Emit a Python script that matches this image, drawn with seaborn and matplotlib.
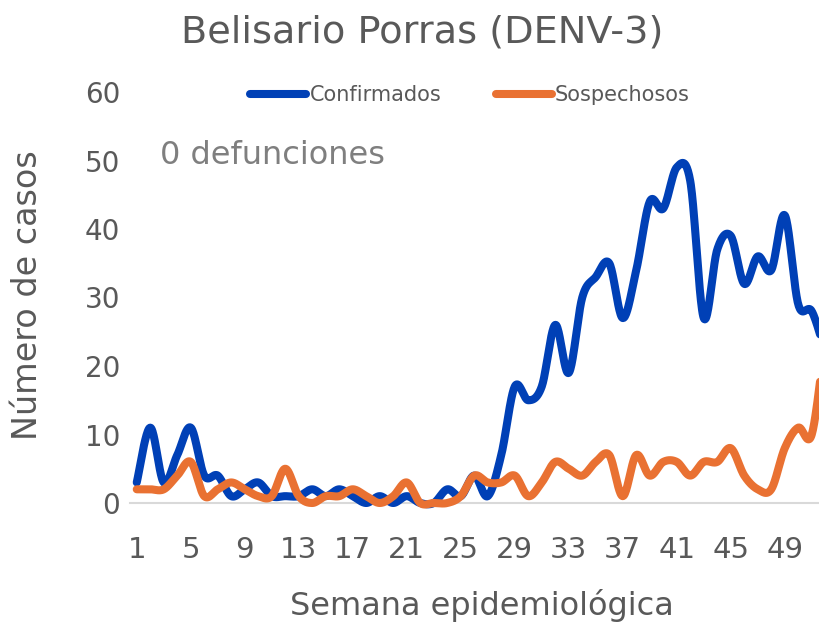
import numpy as np
import pandas as pd
import seaborn as sns
import matplotlib
matplotlib.use("Agg")
import matplotlib.pyplot as plt
from matplotlib.lines import Line2D

# ---------------- data ----------------
semanas = list(range(1, 53))
confirmados = [3, 11, 3, 7, 11, 4, 4, 1, 2, 3, 1, 1, 1,
               2, 1, 2, 1, 0, 1, 0, 1, 0, 0, 2, 1, 4, 1,
               7, 17, 15, 17, 26, 19, 30, 33, 35, 27, 34, 44, 43, 49, 47,
               27, 37, 39, 32, 36, 34, 42, 29, 28, 22]
sospechosos = [2, 2, 2, 4, 6, 1, 2, 3, 2, 1, 1, 5, 1,
               0, 1, 1, 2, 1, 0, 1, 3, 0, 0, 0, 1, 4, 3,
               3, 4, 1, 3, 6, 5, 4, 6, 7, 1, 7, 4, 6, 6, 4,
               6, 6, 8, 4, 2, 2, 8, 11, 10, 24]
series_names = ["Confirmados", "Sospechosos"]
series_colors = ["#0040B6", "#E97132"]
x_tick_weeks = list(range(1, 50, 4))
y_tick_values = list(range(0, 61, 10))
title_text = "Belisario Porras (DENV-3)"
note_text = "0 defunciones"
x_label = "Semana epidemiológica"
y_label = "Número de casos"


def smooth_curve(x, y, n=24):
    """Excel-style smoothed line: cubic Bezier through each data point."""
    x = np.asarray(x, float)
    y = np.asarray(y, float)
    P = np.column_stack([x, y])
    P = np.vstack([P[0], P, P[-1]])
    t = np.linspace(0, 1, n, endpoint=False)[:, None]
    pts = []
    for i in range(len(x) - 1):
        p0, p1, p2, p3 = P[i], P[i + 1], P[i + 2], P[i + 3]
        c1 = p1 + (p2 - p0) / 6.0
        c2 = p2 - (p3 - p1) / 6.0
        seg = ((1 - t) ** 3) * p1 + 3 * ((1 - t) ** 2) * t * c1 \
            + 3 * (1 - t) * t ** 2 * c2 + t ** 3 * p2
        pts.append(seg)
    pts.append(P[-2][None, :])
    pts = np.vstack(pts)
    return pts[:, 0], pts[:, 1]


frames = []
for name, vals in zip(series_names, [confirmados, sospechosos]):
    sx, sy = smooth_curve(semanas, vals)
    frames.append(pd.DataFrame({"semana": sx, "casos": sy, "serie": name}))
df = pd.concat(frames, ignore_index=True)

# ---------------- figure ----------------
sns.set_theme(style="white")
plt.rcParams["font.family"] = ["DejaVu Sans"]
grey = "#595959"

W, H = 820, 625
fig = plt.figure(figsize=(W / 100, H / 100), dpi=100)
fig.patch.set_facecolor("white")
ax_left, ax_bottom = 130, 503
ax_w = 52 * 13.5
ax_h = 503 - 92
ax = fig.add_axes([ax_left / W, (H - ax_bottom) / H, ax_w / W, ax_h / H])

sns.lineplot(data=df, x="semana", y="casos", hue="serie",
             palette=dict(zip(series_names, series_colors)),
             sort=False, estimator=None, linewidth=5.8, ax=ax, legend=False)
for ln in ax.lines:
    ln.set_solid_capstyle("round")
    ln.set_solid_joinstyle("round")
    ln.set_clip_on(False)

ax.set_xlim(0.5, 52.5)
ax.set_ylim(0, 60)
ax.set_xticks(x_tick_weeks)
ax.set_xticklabels([str(v) for v in x_tick_weeks])
ax.set_yticks(y_tick_values)
ax.set_yticklabels([str(v) for v in y_tick_values])
ax.tick_params(axis="x", length=0, pad=24, labelsize=21, labelcolor=grey)
ax.tick_params(axis="y", length=0, pad=7, labelsize=20, labelcolor=grey)
ax.grid(False)
for s in ["top", "right", "left"]:
    ax.spines[s].set_visible(False)
ax.spines["bottom"].set_color("#D9D9D9")
ax.spines["bottom"].set_linewidth(1.5)
ax.spines["bottom"].set_zorder(0.5)

ax.set_xlabel(x_label, fontsize=23, color=grey)
ax.set_ylabel(y_label, fontsize=24, color=grey)
ax.xaxis.label.set_va("center")
ax.yaxis.label.set_va("center")
ax.yaxis.label.set_ha("center")
ax.xaxis.set_label_coords((482 - ax_left) / ax_w, (ax_bottom - 605) / ax_h)
ax.yaxis.set_label_coords((28 - ax_left) / ax_w, (ax_bottom - 295) / ax_h)

fig.text(422 / W, 1 - 33 / H, title_text, ha="center", va="center",
         fontsize=27.5, color=grey)
fig.text(160 / W, 1 - 155 / H, note_text, ha="left", va="center",
         fontsize=23, color="#7F7F7F")

handles = [Line2D([], [], color=c, lw=5.8, solid_capstyle="round")
           for c in series_colors]
fig.legend(handles, series_names, loc="center",
           bbox_to_anchor=(470 / W, 1 - 95 / H), ncol=2, frameon=False,
           handlelength=2.7, handletextpad=0.15, columnspacing=2.6,
           fontsize=15, labelcolor=grey)

fig.savefig("out.png", dpi=100, facecolor="white")
